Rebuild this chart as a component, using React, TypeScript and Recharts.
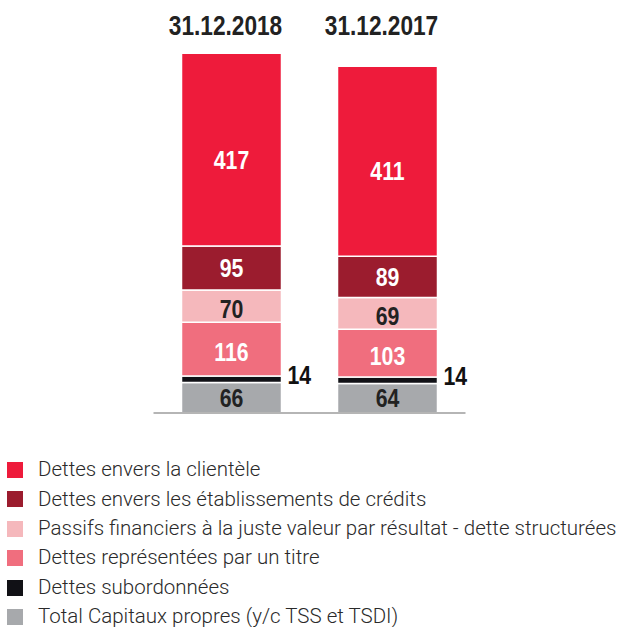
import React from "react";
import { BarChart, Bar, XAxis, YAxis, LabelList, ReferenceLine } from "recharts";

const categories = ["31.12.2018", "31.12.2017"];
const capitaux = [66, 64];
const subordonnees = [14, 14];
const titre = [116, 103];
const passifs = [70, 69];
const etablissements = [95, 89];
const clientele = [417, 411];

const seriesKeys = ["capitaux", "subordonnees", "titre", "passifs", "etablissements", "clientele"];
const seriesNames = [
  "Total Capitaux propres (y/c TSS et TSDI)",
  "Dettes subordonnées",
  "Dettes représentées par un titre",
  "Passifs financiers à la juste valeur par résultat - dette structurées",
  "Dettes envers les établissements de crédits",
  "Dettes envers la clientèle",
];
const seriesColors = ["#A7A9AC", "#111116", "#F06E7E", "#F5B8BC", "#9B1C2E", "#EE1B3B"];
const labelColors = ["#222222", "#111111", "#FFFFFF", "#222222", "#FFFFFF", "#FFFFFF"];
const labelShift = [0, -4, 3, 3, 0, 10];
const seriesValues = [capitaux, subordonnees, titre, passifs, etablissements, clientele];

const data = categories.map((c, i) => {
  const row: Record<string, string | number> = { name: c };
  seriesKeys.forEach((k, j) => {
    row[k] = seriesValues[j][i];
  });
  return row;
});

const sans = "'Liberation Sans', Arial, sans-serif";

const TopTick = (props: any) => {
  const { x, y, payload } = props;
  return (
    <text
      transform={`translate(${Number(x) - 6},${y}) scale(0.81,1)`}
      x={0}
      y={0}
      textAnchor="middle"
      fill="#222"
      fontSize={28}
      fontWeight="bold"
      fontFamily={sans}
    >
      {payload.value}
    </text>
  );
};

const makeLabel = (color: string, outside: boolean, shift: number) => (props: any) => {
  const { x, y, width, height, value } = props;
  const cx = outside ? Number(x) + Number(width) + 6 : Number(x) + Number(width) / 2;
  const cy = Number(y) + Number(height) / 2 + shift;
  return (
    <text
      transform={`translate(${cx},${cy}) scale(0.85,1)`}
      x={0}
      y={0}
      dy="0.36em"
      textAnchor={outside ? "start" : "middle"}
      fill={color}
      fontSize={25}
      fontWeight="bold"
      fontFamily={sans}
    >
      {value}
    </text>
  );
};

export default function App() {
  const legendOrder = [5, 4, 3, 2, 1, 0];
  return (
    <div style={{ position: "absolute", left: 0, top: 0, width: 618, height: 627, background: "#fff", overflow: "hidden" }}>
      <BarChart
        width={618}
        height={420}
        data={data}
        margin={{ top: 0, right: 152.5, left: 153.5, bottom: 7 }}
        barSize={100}
      >
        <XAxis
          dataKey="name"
          orientation="top"
          height={43}
          axisLine={false}
          tickLine={false}
          tickSize={0}
          tickMargin={8}
          tick={<TopTick />}
        />
        <YAxis hide domain={[0, 800]} />
        {seriesKeys.map((k, j) => (
          <Bar
            key={k}
            dataKey={k}
            stackId="a"
            fill={seriesColors[j]}
            stroke="#ffffff"
            strokeWidth={1.5}
            isAnimationActive={false}
          >
            <LabelList dataKey={k} content={makeLabel(labelColors[j], k === "subordonnees", labelShift[j])} />
          </Bar>
        ))}
        <ReferenceLine y={0} stroke="#B5B5B5" strokeWidth={2} />
      </BarChart>
      <div style={{ position: "absolute", left: 0, top: 455.3, width: 618 }}>
        {legendOrder.map((j) => (
          <div key={j} style={{ display: "flex", alignItems: "center", height: 29.4 }}>
            <div style={{ width: 16, height: 16, background: seriesColors[j], marginLeft: 7, marginRight: 15, flexShrink: 0 }} />
            <span style={{ fontFamily: "Roboto, 'Liberation Sans', sans-serif", fontWeight: 300, fontSize: 20.5, color: "#2a2a2a", whiteSpace: "nowrap", lineHeight: "29.4px" }}>
              {seriesNames[j]}
            </span>
          </div>
        ))}
      </div>
    </div>
  );
}
